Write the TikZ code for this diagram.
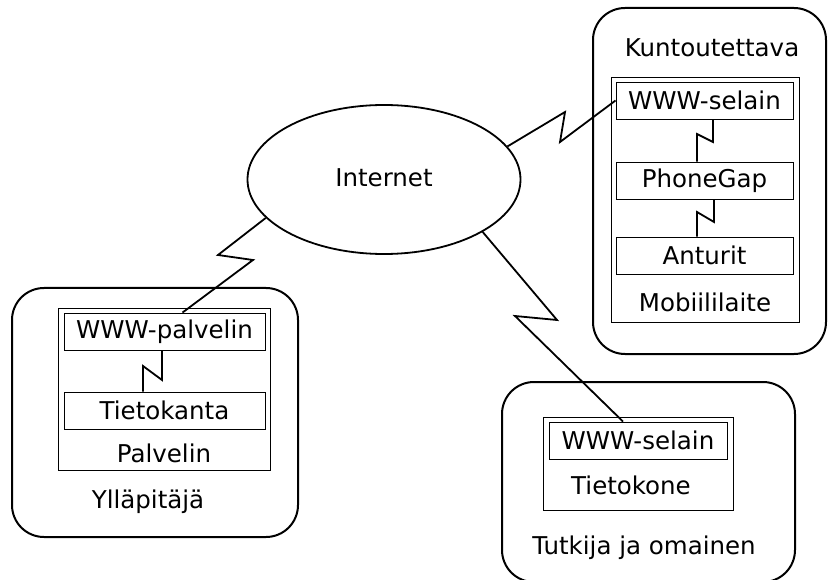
\documentclass[tikz,border=0pt]{standalone}
\usepackage{fontspec}
\setmainfont{DejaVu Sans}
\usetikzlibrary{shapes.geometric}
\begin{document}
\begin{tikzpicture}[x=1pt,y=-1pt,
  every node/.style={font=\fontsize{24.5}{28}\selectfont, inner sep=0pt},
  outerbox/.style={draw, line width=2pt, rounded corners=32pt},
  devbox/.style={draw, line width=0.9pt},
  compbox/.style={draw, line width=0.9pt, minimum height=37pt},
  link/.style={draw, line width=1.8pt, line join=miter}]
\useasboundingbox (0,0) rectangle (828,580);

% Internet
\node[ellipse, draw, line width=1.8pt, minimum width=273pt, minimum height=149pt] (inet) at (384,179.5) {};
\node (inettxt) at (384,178) {Internet};

% Kuntoutettava
\node[outerbox, minimum width=233pt, minimum height=346pt] (kout) at (709.5,181) {};
\node[devbox, minimum width=188pt, minimum height=245pt] (mob) at (705,199.5) {};
\node[compbox, minimum width=177pt] (wwwk) at (704.5,100.5) {WWW-selain};
\node[compbox, minimum width=177pt] (pg) at (704.5,180.5) {PhoneGap};
\node[compbox, minimum width=177pt] (ant) at (704.5,255.5) {Anturit};
\node (ktxt) at (712,48) {Kuntoutettava};
\node (mtxt) at (705,302) {Mobiililaite};

% Yllapitaja
\node[outerbox, minimum width=286pt, minimum height=249pt] (yout) at (155,412.5) {};
\node[devbox, minimum width=212pt, minimum height=162pt] (palv) at (164,389) {};
\node[compbox, minimum width=201pt] (wwwp) at (164.5,331.5) {WWW-palvelin};
\node[compbox, minimum width=201pt] (tk) at (164.5,410.5) {Tietokanta};
\node (ptxt) at (164,453) {Palvelin};
\node (ytxt) at (148,502) {Ylläpitäjä};

% Tutkija
\node[outerbox, minimum width=293pt, minimum height=200pt] (tout) at (648.5,482) {};
\node[devbox, minimum width=190pt, minimum height=93pt] (tkone) at (638,463.5) {};
\node[compbox, minimum width=178pt] (wwwt) at (638,440.5) {WWW-selain};
\node (tktxt) at (631,485) {Tietokone};
\node (ttxt) at (644,548) {Tutkija ja omainen};

% connectors
\draw[link] (inet.198) -- (218,255) -- (253,260) -- ([xshift=18pt]wwwp.north);
\draw[link] (inet.15) -- (565,112) -- (560,142) -- (wwwk.west);
\draw[link] (inet.332) -- (557,320) -- (515,316) -- ([xshift=-15pt]wwwt.north);

\draw[link] ([xshift=8.5pt]wwwk.south) -- (713,142) -- (697,134) -- ([xshift=-7.5pt]pg.north);
\draw[link] ([xshift=9.5pt]pg.south) -- (714,222) -- (697,212) -- ([xshift=-7.5pt]ant.north);
\draw[link] ([xshift=-2.5pt]wwwp.south) -- (162,380) -- (143,366) -- ([xshift=-21.5pt]tk.north);
\end{tikzpicture}
\end{document}
